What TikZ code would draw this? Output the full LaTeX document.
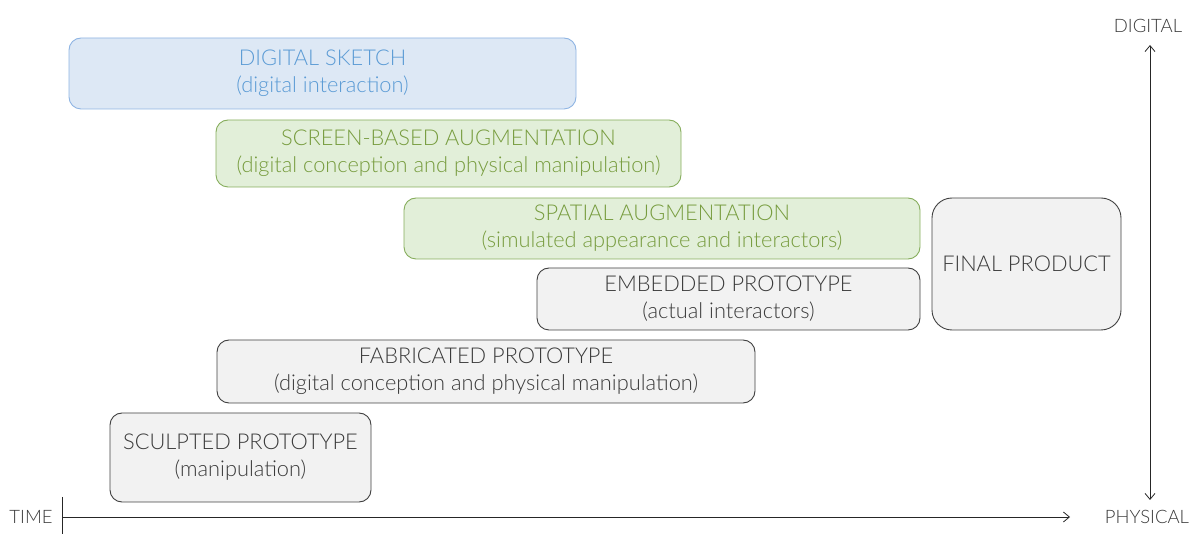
\documentclass[tikz,border=0pt]{standalone}
\usepackage{fontspec}
\setmainfont{Lato Light}
\usetikzlibrary{arrows.meta}
\definecolor{bluefill}{HTML}{DDE8F5}
\definecolor{blueline}{HTML}{8EB4E3}
\definecolor{bluetext}{HTML}{5B9BD5}
\definecolor{greenfill}{HTML}{E2EFD9}
\definecolor{greenline}{HTML}{86AD5C}
\definecolor{greentext}{HTML}{779C3E}
\definecolor{grayfill}{HTML}{F2F2F2}
\definecolor{grayline}{HTML}{404040}
\definecolor{graytext}{HTML}{3A3A3A}
\begin{document}
\begin{tikzpicture}[x=1pt,y=-1pt,
  box/.style={rounded corners=12pt, line width=0.9pt, align=center, inner sep=0pt,
    font=\fontsize{21.8}{27}\selectfont},
  bluebox/.style={box, draw=blueline, fill=bluefill, text=bluetext},
  greenbox/.style={box, draw=greenline, fill=greenfill, text=greentext},
  graybox/.style={box, draw=grayline, fill=grayfill, text=graytext},
  axislabel/.style={font=\fontsize{18.5}{20}\selectfont, text=graytext, inner sep=0pt},
  axis/.style={line width=0.8pt, draw=black!85}]
\useasboundingbox (0,0) rectangle (1195,534);
\node[bluebox, minimum width=507pt, minimum height=71pt] (ds) at (322.5,73.5) {DIGITAL SKETCH\\(digital interaction)};
\node[greenbox, minimum width=465pt, minimum height=67pt] (sb) at (448.5,153.5) {SCREEN-BASED AUGMENTATION\\(digital conception and physical manipulation)};
\node[greenbox, minimum width=516pt, minimum height=61pt] (sa) at (662,228.5) {SPATIAL AUGMENTATION\\(simulated appearance and interactors)};
\node[graybox, minimum width=383pt, minimum height=62pt] (ep) at (728.5,299) {EMBEDDED PROTOTYPE\\(actual interactors)};
\node[graybox, rounded corners=20pt, minimum width=189pt, minimum height=132pt] (fp) at (1026.5,264) {FINAL PRODUCT};
\node[graybox, minimum width=538pt, minimum height=63pt] (fab) at (486,371.5) {FABRICATED PROTOTYPE\\(digital conception and physical manipulation)};
\node[graybox, minimum width=261pt, minimum height=89pt] (sc) at (240.5,457.5) {SCULPTED PROTOTYPE\\(manipulation)};
\node[axislabel] (time) at (31,517) {TIME};
\node[axislabel] (phys) at (1147,517) {PHYSICAL};
\node[axislabel] (dig) at (1148,26) {DIGITAL};
\coordinate (o) at (62,517);
\coordinate (tend) at (1070,517);
\coordinate (tickup) at (62,497);
\coordinate (tickdn) at (62,534);
\coordinate (dtop) at (1150,45);
\coordinate (dbot) at (1150,500);
\draw[axis] (tickup) -- (tickdn);
\draw[axis, -{Straight Barb[length=6pt,width=10pt]}] (o) -- (tend);
\draw[axis, {Straight Barb[length=6pt,width=10pt]}-{Straight Barb[length=6pt,width=10pt]}] (dbot) -- (dtop);
\end{tikzpicture}
\end{document}
